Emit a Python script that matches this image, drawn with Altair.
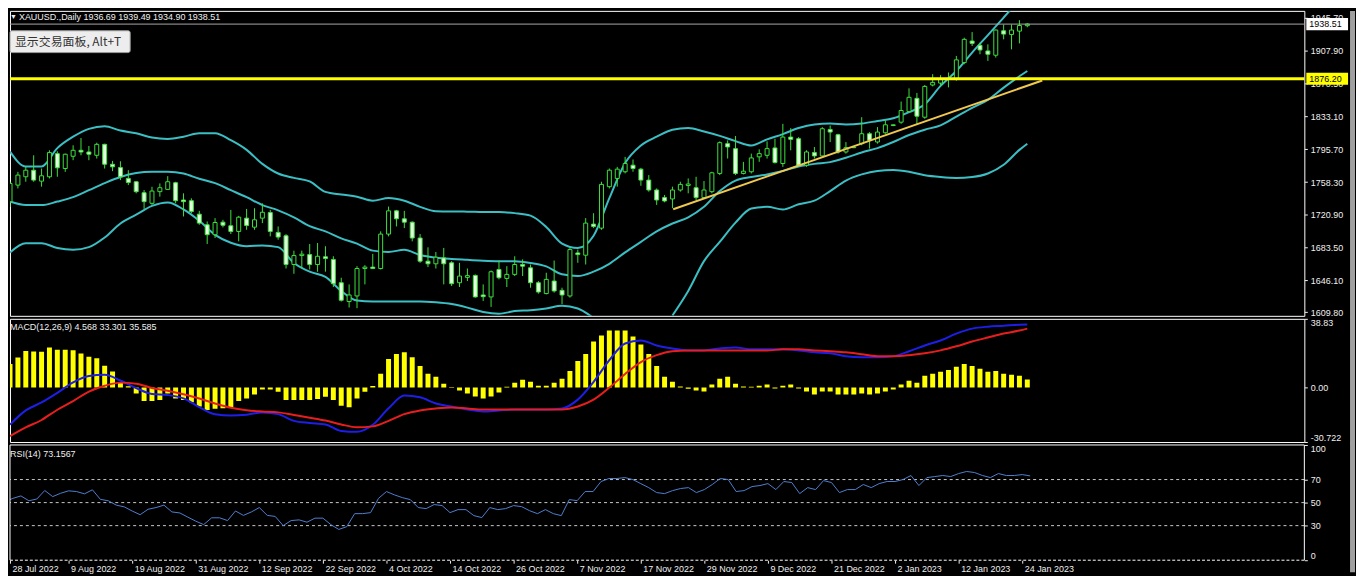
import json
import altair as alt
import pandas as pd

# ---------------- data ----------------
date_labels = ["28 Jul 2022", "9 Aug 2022", "19 Aug 2022", "31 Aug 2022", "12 Sep 2022",
               "22 Sep 2022", "4 Oct 2022", "14 Oct 2022", "26 Oct 2022", "7 Nov 2022",
               "17 Nov 2022", "29 Nov 2022", "9 Dec 2022", "21 Dec 2022", "2 Jan 2023",
               "12 Jan 2023", "24 Jan 2023"]

bar_open = [1735.9, 1754.8, 1764.3, 1771.8, 1759.3, 1764.3, 1790.7, 1773.7, 1787.7, 1794.5,
            1792.6, 1788.8, 1801.3, 1778.6, 1774.8, 1762.4, 1758.6, 1746.1, 1734.0, 1747.3,
            1749.9, 1757.5, 1737.8, 1737.0, 1721.6, 1709.5, 1698.2, 1712.5, 1708.4, 1701.9,
            1717.1, 1706.8, 1717.1, 1723.5, 1700.8, 1697.0, 1664.2, 1674.4, 1675.5, 1664.2,
            1673.0, 1669.9, 1643.4, 1621.9, 1628.3, 1659.6, 1661.2, 1659.6, 1698.9, 1725.4,
            1716.3, 1712.5, 1694.4, 1668.0, 1665.0, 1671.7, 1666.1, 1643.4, 1649.5, 1651.7,
            1629.4, 1627.2, 1658.5, 1648.3, 1652.9, 1664.2, 1660.4, 1643.4, 1631.0, 1645.3,
            1634.7, 1628.3, 1677.4, 1674.8, 1710.3, 1705.7, 1753.0, 1762.4, 1770.0, 1777.5,
            1773.0, 1760.5, 1749.2, 1740.5, 1739.0, 1749.2, 1754.4, 1751.8, 1740.5, 1747.3,
            1768.1, 1802.1, 1796.4, 1768.1, 1770.0, 1787.0, 1788.8, 1797.2, 1779.4, 1809.6,
            1807.7, 1777.5, 1791.9, 1788.1, 1818.3, 1812.3, 1792.6, 1797.5, 1802.1, 1813.4,
            1804.0, 1814.5, 1822.8, 1826.6, 1838.7, 1853.8, 1832.3, 1869.0, 1871.2, 1876.5,
            1875.7, 1894.6, 1919.2, 1914.3, 1907.9, 1903.0, 1930.9, 1926.7, 1930.5, 1936.69]

bar_high = [1758.6, 1769.9, 1775.6, 1788.8, 1773.7, 1794.5, 1793.4, 1790.7, 1800.2, 1808.5,
            1799.4, 1803.2, 1802.0, 1782.4, 1782.0, 1771.8, 1759.4, 1749.2, 1752.9, 1756.7,
            1765.0, 1758.6, 1745.4, 1739.7, 1725.4, 1713.3, 1717.1, 1715.2, 1726.5, 1719.7,
            1727.6, 1728.4, 1734.0, 1726.5, 1707.6, 1698.9, 1680.0, 1680.0, 1687.6, 1688.7,
            1685.0, 1673.6, 1649.1, 1641.5, 1662.3, 1663.4, 1676.3, 1702.0, 1730.3, 1726.5,
            1725.4, 1713.3, 1698.9, 1683.8, 1678.5, 1683.1, 1668.0, 1666.1, 1659.6, 1652.9,
            1641.5, 1657.4, 1668.7, 1662.3, 1673.6, 1670.0, 1664.2, 1645.3, 1654.8, 1668.7,
            1637.7, 1683.1, 1681.2, 1717.1, 1722.7, 1758.6, 1773.7, 1775.6, 1787.0, 1784.0,
            1774.5, 1766.2, 1751.0, 1743.5, 1753.0, 1758.6, 1762.4, 1764.3, 1759.4, 1770.0,
            1804.7, 1805.8, 1810.8, 1781.3, 1790.7, 1795.6, 1804.7, 1807.7, 1824.7, 1819.8,
            1809.6, 1794.5, 1798.3, 1821.0, 1822.8, 1813.4, 1803.9, 1798.5, 1832.3, 1815.3,
            1821.0, 1828.5, 1824.0, 1850.1, 1865.2, 1859.9, 1869.0, 1881.4, 1880.3, 1883.3,
            1902.2, 1923.0, 1929.4, 1917.3, 1915.4, 1932.4, 1938.1, 1938.1, 1943.0, 1939.49]

bar_low = [1730.0, 1751.0, 1758.6, 1758.6, 1753.0, 1762.4, 1764.3, 1769.9, 1783.2, 1788.8,
           1783.2, 1785.1, 1773.7, 1770.7, 1760.5, 1754.8, 1745.4, 1727.6, 1732.2, 1741.6,
           1749.2, 1734.0, 1719.0, 1722.7, 1709.5, 1687.6, 1694.4, 1706.5, 1699.0, 1690.6,
           1703.8, 1703.8, 1711.4, 1696.3, 1692.5, 1659.6, 1653.6, 1659.6, 1658.5, 1655.9,
           1656.0, 1638.5, 1621.9, 1615.1, 1614.3, 1641.5, 1659.0, 1658.5, 1696.3, 1707.6,
           1705.7, 1690.6, 1666.1, 1661.2, 1659.6, 1641.5, 1639.6, 1638.5, 1645.3, 1626.4,
           1622.6, 1615.8, 1647.2, 1638.5, 1651.0, 1651.0, 1637.7, 1630.9, 1630.2, 1632.1,
           1618.9, 1626.4, 1666.1, 1664.2, 1705.7, 1703.8, 1751.0, 1753.0, 1768.1, 1770.0,
           1754.0, 1747.3, 1732.2, 1735.2, 1728.4, 1747.3, 1745.4, 1737.8, 1739.0, 1745.4,
           1766.2, 1785.1, 1766.2, 1767.0, 1768.1, 1781.3, 1785.1, 1779.4, 1775.6, 1794.5,
           1775.6, 1775.6, 1785.1, 1786.9, 1803.9, 1790.7, 1790.7, 1797.0, 1800.2, 1796.4,
           1802.1, 1813.4, 1822.0, 1824.7, 1838.0, 1823.6, 1830.4, 1867.4, 1867.4, 1866.3,
           1873.9, 1892.7, 1913.5, 1904.1, 1896.5, 1900.3, 1921.1, 1909.7, 1916.5, 1934.90]

bar_close = [1756.7, 1766.2, 1771.8, 1760.5, 1765.4, 1791.9, 1774.5, 1790.0, 1794.5, 1792.6,
             1790.0, 1801.3, 1778.6, 1775.6, 1764.3, 1757.8, 1747.3, 1735.9, 1748.0, 1751.8,
             1758.6, 1737.0, 1735.9, 1724.6, 1711.4, 1698.2, 1712.1, 1709.0, 1701.9, 1718.2,
             1708.7, 1715.2, 1723.8, 1701.9, 1695.5, 1664.2, 1674.4, 1676.0, 1664.2, 1673.6,
             1671.0, 1642.3, 1623.4, 1629.4, 1659.6, 1661.2, 1659.6, 1698.9, 1725.4, 1716.3,
             1712.5, 1694.4, 1668.0, 1665.0, 1672.5, 1665.0, 1642.3, 1651.0, 1651.5, 1627.2,
             1627.5, 1655.9, 1649.1, 1652.9, 1664.2, 1662.3, 1643.4, 1632.8, 1647.2, 1634.0,
             1629.4, 1681.2, 1675.5, 1711.4, 1707.6, 1755.6, 1771.8, 1773.0, 1779.4, 1773.7,
             1760.5, 1749.2, 1737.8, 1736.7, 1749.2, 1755.6, 1756.0, 1740.5, 1749.2, 1768.8,
             1803.2, 1798.3, 1768.1, 1770.7, 1785.8, 1790.7, 1796.4, 1780.5, 1809.6, 1807.0,
             1777.5, 1792.6, 1788.1, 1819.1, 1815.3, 1792.6, 1797.5, 1797.9, 1813.4, 1805.9,
             1815.3, 1823.6, 1823.6, 1839.9, 1855.0, 1833.4, 1867.4, 1872.0, 1875.7, 1875.3,
             1897.7, 1921.1, 1916.5, 1909.0, 1904.1, 1931.7, 1927.1, 1931.7, 1936.9, 1938.51]

# Bollinger bands, read every second bar (plus the last bar)
band_index = list(range(0, 129, 2)) + [129]
bb_upper = [1793, 1776, 1776, 1797, 1810, 1819, 1822, 1817, 1814, 1809,
            1807.5, 1810, 1814, 1814, 1806, 1795, 1779, 1768, 1763, 1759,
            1747, 1744, 1741.6, 1737, 1740, 1737, 1730, 1725, 1724.6, 1724.5,
            1724, 1724, 1722.8, 1720, 1707, 1688, 1683, 1697, 1740, 1780,
            1800, 1810, 1818, 1820, 1816, 1811, 1805, 1800, 1807, 1813,
            1820, 1824, 1825, 1824, 1825, 1828, 1831, 1838, 1847, 1868,
            1885, 1906, 1926, 1946, 1966, 1975]
bb_middle = [1736, 1732, 1732, 1736, 1741, 1749, 1757, 1764, 1768.5, 1770,
             1770, 1768, 1762, 1757, 1749, 1741, 1732, 1726, 1718, 1708,
             1702, 1694, 1688, 1680, 1678.5, 1681, 1675, 1672, 1670.5, 1669.5,
             1668.5, 1668, 1668, 1666, 1662, 1653, 1651, 1656, 1665, 1678,
             1690, 1702, 1711, 1718, 1730, 1748, 1760, 1764, 1767, 1771,
             1776, 1779, 1781, 1786, 1792, 1797, 1804, 1812, 1818, 1823,
             1833, 1843, 1852, 1866, 1879, 1885]
bb_lower = [1678, 1688.5, 1688.5, 1683, 1681, 1684, 1695, 1711, 1721, 1731,
            1735, 1727, 1714, 1698, 1689, 1685, 1686, 1684, 1666, 1656,
            1650, 1634, 1623, 1622, 1622, 1622, 1622, 1621, 1619, 1615,
            1610, 1608, 1611, 1612, 1614, 1617, 1614, 1603, None, None,
            None, None, 1606, 1634, 1668, 1690, 1712, 1728, 1730, 1727,
            1733, 1737, 1748, 1760, 1767, 1771, 1772, 1770, 1766, 1764,
            1763, 1764, 1768, 1778, 1795, 1802]

level_price = [1876.20]
bid_price = [1938.51]
trend_index = [84.1, 130.9]
trend_price = [1727.3, 1874.2]
price_ticks = [1609.80, 1646.10, 1683.50, 1720.90, 1758.30, 1795.70, 1833.10, 1870.50, 1907.90, 1945.70]

macd_hist = [13.3, 17.0, 20.7, 20.4, 20.2, 22.6, 21.3, 21.3, 21.1, 19.3,
             17.4, 16.5, 12.4, 9.1, 2.8, 0.7, -3.3, -7.6, -7.6, -7.0,
             -3.3, -6.1, -7.0, -8.3, -10.7, -12.6, -12.0, -11.7, -11.3, -7.6,
             -6.1, -3.9, -1.1, -1.1, -2.4, -7.0, -7.0, -7.0, -7.0, -6.5,
             -5.2, -7.0, -10.2, -11.1, -6.1, -2.4, 0.9, 7.8, 16.1, 18.9,
             20.0, 17.2, 12.2, 7.8, 6.1, 2.2, 0.3, -1.7, -3.3, -5.0,
             -6.1, -5.0, -2.8, 0.5, 2.8, 4.4, 3.3, 1.1, 1.1, 2.8,
             5.0, 9.4, 15.0, 18.9, 26.0, 29.4, 32.2, 32.2, 32.2, 28.9,
             24.4, 18.9, 12.2, 6.1, 3.3, 0.6, -0.6, -1.7, -2.2, 1.7,
             5.0, 6.1, 2.2, 0.6, 0.5, 1.1, 1.7, -0.5, 1.1, 1.7,
             -0.5, -2.2, -3.9, -2.2, -2.2, -3.9, -3.9, -3.9, -3.3, -3.9,
             -3.3, -2.2, -1.1, 1.7, 3.9, 2.8, 6.7, 7.8, 8.9, 10.0,
             11.7, 13.3, 12.2, 10.6, 8.9, 9.4, 7.8, 7.2, 6.7, 4.568]
macd_blue = [-20.9, -12.9, -8.4, -3.0, 2.9, 6.5, 7.2, 4.0, -0.3, -3.6,
             -4.2, -6.1, -11.0, -15.0, -15.7, -15.3, -14.0, -15.0, -18.8, -20.0,
             -20.8, -24.5, -25.0, -21.0, -11.7, -4.5, -5.5, -9.0, -10.7, -12.4,
             -13.5, -12.9, -12.4, -12.4, -12.4, -11.8, -6.8, 3.2, 15.5, 24.9,
             26.6, 23.8, 22.1, 21.0, 21.0, 22.1, 22.7, 21.6, 21.6, 21.6,
             21.0, 19.9, 19.4, 17.7, 17.1, 17.1, 17.7, 20.5, 23.8, 26.6,
             30.5, 33.3, 34.4, 34.9, 35.5, 35.585]
macd_red = [-27.4, -22.5, -18.3, -12.5, -7.6, -2.3, 1.0, 2.8, 2.2, -0.2,
            -1.8, -3.8, -6.2, -9.0, -11.4, -12.8, -13.5, -14.0, -15.5, -17.0,
            -18.6, -20.8, -22.4, -21.9, -18.8, -15.0, -12.9, -11.8, -11.2, -11.8,
            -12.4, -12.4, -12.4, -12.4, -12.4, -12.4, -10.7, -6.8, 0.0, 7.7,
            14.4, 18.3, 20.5, 21.0, 21.0, 21.0, 21.0, 21.0, 21.0, 21.6,
            21.6, 21.0, 20.5, 19.9, 18.8, 17.7, 17.7, 18.3, 19.4, 21.0,
            23.3, 26.0, 28.3, 30.5, 32.2, 33.301]
macd_ticks = [38.83, 0.0, -30.722]

rsi_values = [50.7, 53.7, 55.8, 51.6, 53.1, 60.5, 55.2, 58.1, 60.2, 59.6,
              57.6, 61.1, 52.8, 51.6, 47.8, 46.3, 42.7, 39.5, 44.2, 45.7,
              47.8, 41.9, 41.0, 37.4, 33.9, 30.9, 36.8, 36.8, 34.4, 42.7,
              38.9, 41.9, 45.7, 38.9, 38.0, 30.0, 34.4, 35.0, 33.0, 36.5,
              36.5, 30.9, 26.7, 29.1, 40.4, 40.4, 41.3, 53.7, 59.6, 56.7,
              54.3, 52.6, 45.7, 44.8, 48.3, 47.4, 41.3, 43.9, 43.9, 38.7,
              37.0, 45.7, 43.9, 44.8, 47.4, 46.5, 43.0, 40.4, 43.9, 40.4,
              38.7, 52.6, 51.7, 59.6, 59.6, 68.3, 70.9, 70.9, 71.7, 70.0,
              66.5, 63.0, 58.7, 57.8, 60.4, 62.2, 63.0, 58.7, 61.3, 65.7,
              70.9, 70.0, 59.6, 60.4, 63.9, 64.8, 66.5, 61.3, 68.3, 67.4,
              57.8, 63.0, 61.3, 69.1, 67.4, 58.7, 61.3, 61.3, 65.7, 63.0,
              66.5, 68.3, 68.3, 70.0, 73.5, 64.8, 71.7, 72.6, 73.5, 72.6,
              75.2, 77.0, 76.1, 73.5, 71.7, 75.2, 73.5, 73.5, 74.3, 73.16]
rsi_levels = [70, 50, 30]
rsi_ticks = [100, 70, 50, 30, 0]

header_text = ["XAUUSD.,Daily  1936.69 1939.49 1934.90 1938.51"]
button_text = ["显示交易面板, Alt+T"]
macd_title = ["MACD(12,26,9) 4.568 33.301 35.585"]
rsi_title = ["RSI(14) 73.1567"]

# ---------------- tables ----------------
n = len(bar_open)
candles = pd.DataFrame({"i": list(range(n)), "o": bar_open, "h": bar_high,
                        "l": bar_low, "c": bar_close})
rows = []
for name, vals in (("upper", bb_upper), ("middle", bb_middle), ("lower", bb_lower)):
    for i, v in zip(band_index, vals):
        if v is None:
            continue
        seg = name if (name != "lower" or i < 80) else "lower2"
        rows.append({"i": i, "v": v, "band": seg})
bands = pd.DataFrame(rows)
trend = pd.DataFrame({"i": trend_index, "p": trend_price})
level_df = pd.DataFrame({"p": level_price})
bid_df = pd.DataFrame({"p": bid_price})
hist_df = pd.DataFrame({"i": list(range(n)), "h": macd_hist})
blue_df = pd.DataFrame({"i": band_index, "v": macd_blue})
red_df = pd.DataFrame({"i": band_index, "v": macd_red})
rsi_df = pd.DataFrame({"i": list(range(n)), "r": rsi_values})
lev_df = pd.DataFrame({"lv": rsi_levels})
one = pd.DataFrame({"k": [0]})

# ---------------- styling ----------------
W, H_MAIN, H_MACD, H_RSI = 1303, 307, 124, 116
LIME = "#3CE03C"
BEAR_FILL = "#E4FFE0"
TEAL = "#3BBFC4"
FONT = "Liberation Sans"
TXT = "#F0F0F0"
STRIP = "#A0A0A0"
BOX = "M-1,-0.29L1,-0.29L1,0.29L-1,0.29Z"

xs = alt.Scale(domain=[0.625, 163.5], nice=False, zero=False)
x_hidden = alt.X("i:Q", scale=xs, axis=None)

ps = alt.Scale(domain=[1605.6, 1953.6], nice=False, zero=False)
p_axis = alt.Axis(values=price_ticks, format=".2f", orient="right", title=None,
                  labelOverlap=False)


def py(field):
    return alt.Y(field, scale=ps, axis=p_axis)


def label(df, size, color, xpix, ypix, font=FONT):
    return alt.Chart(df).mark_text(align="left", baseline="middle", font=font,
                                   fontSize=size, color=color).encode(
        x=alt.value(xpix), y=alt.value(ypix), text=alt.Text(df.columns[0] + ":N"))


def strip(y0, y1):
    return alt.Chart(one).mark_rect(color=STRIP).encode(
        x=alt.value(1349), x2=alt.value(1354), y=alt.value(y0), y2=alt.value(y1))


def frame_line(x0, x1, y0, y1, dash=None):
    kw = {"color": "#FFFFFF", "strokeWidth": 1}
    if dash:
        kw["strokeDash"] = dash
    return alt.Chart(one).mark_rule(**kw).encode(
        x=alt.value(x0), x2=alt.value(x1), y=alt.value(y0), y2=alt.value(y1))


# ---------------- main panel ----------------
wick = alt.Chart(candles).mark_rule(color=LIME, strokeWidth=1, clip=True).encode(
    x=x_hidden, y=py("l:Q"), y2="h:Q")
body = alt.Chart(candles).mark_bar(size=4, stroke=LIME, strokeWidth=1, clip=True).encode(
    x=x_hidden, y=py("o:Q"), y2="c:Q",
    fill=alt.condition("datum.c >= datum.o", alt.value("#000000"), alt.value(BEAR_FILL)))
band_lines = alt.Chart(bands).mark_line(color=TEAL, strokeWidth=2, clip=True,
                                        interpolate="monotone").encode(
    x=x_hidden, y=py("v:Q"), detail="band:N")
level_rule = alt.Chart(level_df).mark_rule(color="#FFFF00", strokeWidth=3).encode(y=py("p:Q"))
bid_rule = alt.Chart(bid_df).mark_rule(color="#A8A8A8", strokeWidth=1).encode(y=py("p:Q"))
trend_line = alt.Chart(trend).mark_line(color="#F0C850", strokeWidth=2, clip=True).encode(
    x=x_hidden, y=py("p:Q"))
bid_box = alt.Chart(bid_df).mark_point(shape=BOX, size=42 * 42, filled=True, opacity=1,
                                       color="#FFFFFF", strokeWidth=0).encode(
    x=alt.value(1326), y=py("p:Q"))
level_box = alt.Chart(level_df).mark_point(shape=BOX, size=42 * 42, filled=True, opacity=1,
                                           color="#FFFF00", strokeWidth=0).encode(
    x=alt.value(1326), y=py("p:Q"))
bid_txt = alt.Chart(bid_df).mark_text(align="left", baseline="middle", font=FONT,
                                      fontSize=9, color="#000000").encode(
    x=alt.value(1308), y=py("p:Q"), text=alt.Text("p:Q", format=".2f"))
level_txt = alt.Chart(level_df).mark_text(align="left", baseline="middle", font=FONT,
                                          fontSize=9, color="#000000").encode(
    x=alt.value(1308), y=py("p:Q"), text=alt.Text("p:Q", format=".2f"))
tri = alt.Chart(one).mark_text(text="▼", fontSize=7, color=TXT, align="left",
                               baseline="middle").encode(x=alt.value(0), y=alt.value(6))
header = label(pd.DataFrame({"t": header_text}), 9, TXT, 9, 6)
button = alt.Chart(one).mark_rect(fill="#EDEDED", stroke="#9A9A9A", strokeWidth=1,
                                  cornerRadius=2).encode(
    x=alt.value(0), x2=alt.value(121), y=alt.value(20), y2=alt.value(42))
button_lbl = label(pd.DataFrame({"t": button_text}), 12, "#333333", 5, 31,
                   font="Noto Sans CJK SC")

main = alt.layer(band_lines, wick, body, level_rule, bid_rule, trend_line,
                 bid_box, level_box, bid_txt, level_txt, tri, header, button, button_lbl,
                 strip(0, H_MAIN + 3)).properties(width=W, height=H_MAIN)

# ---------------- MACD panel ----------------
ms = alt.Scale(domain=[-30.722, 38.83], nice=False, zero=False)
m_axis = alt.Axis(values=macd_ticks, orient="right", title=None, labelFlush=True,
                  labelOverlap=False,
                  labelExpr="datum.value == 0 ? '0.00' : '' + datum.value")
hist = alt.Chart(hist_df).mark_bar(size=5, color="#FFFF00", clip=True).encode(
    x=x_hidden, y=alt.Y("h:Q", scale=ms, axis=m_axis), y2=alt.datum(0))
blue = alt.Chart(blue_df).mark_line(color="#1E1EE8", strokeWidth=2, clip=True,
                                    interpolate="monotone").encode(
    x=x_hidden, y=alt.Y("v:Q", scale=ms, axis=m_axis))
red = alt.Chart(red_df).mark_line(color="#E81E1E", strokeWidth=2, clip=True,
                                  interpolate="monotone").encode(
    x=x_hidden, y=alt.Y("v:Q", scale=ms, axis=m_axis))
macd = alt.layer(hist, blue, red, label(pd.DataFrame({"t": macd_title}), 9, TXT, 0, 8),
                 strip(-3, H_MACD + 3)).properties(width=W, height=H_MACD)

# ---------------- RSI panel ----------------
rs = alt.Scale(domain=[0, 100], nice=False, zero=False)
r_axis = alt.Axis(values=rsi_ticks, orient="right", title=None, labelFlush=True,
                  labelOverlap=False, format="d")
x_ticks = [0.625] + list(range(8, 129, 8))
x_axis = alt.Axis(values=x_ticks, orient="bottom", title=None, labelAlign="left",
                  labelPadding=1, labelOffset=2, tickSize=3, labelFlush=False,
                  labelOverlap=False,
                  labelExpr=json.dumps(date_labels) + "[round(datum.value / 8)]")
levels = alt.Chart(lev_df).mark_rule(color="#C8C8C8", strokeWidth=1,
                                     strokeDash=[3, 3]).encode(
    y=alt.Y("lv:Q", scale=rs, axis=r_axis))
rsi_line = alt.Chart(rsi_df).mark_line(color="#4F7FD0", strokeWidth=1, clip=True).encode(
    x=alt.X("i:Q", scale=xs, axis=x_axis), y=alt.Y("r:Q", scale=rs, axis=r_axis))
rsi = alt.layer(
    levels, rsi_line, label(pd.DataFrame({"t": rsi_title}), 9, TXT, 0, 9),
    frame_line(0, W, 0, 0), frame_line(0, 0, 0, H_RSI), frame_line(W, W, 0, H_RSI),
    frame_line(0, W, H_RSI, H_RSI, dash=[3, 2]),
    strip(-3, H_RSI + 12)
).properties(width=W, height=H_RSI, view=alt.ViewBackground(stroke="transparent"))

chart = alt.vconcat(main, macd, rsi, spacing=3, bounds="flush", padding=0).configure(
    background="#000000"
).configure_view(
    stroke="#FFFFFF", strokeWidth=1
).configure_axis(
    labelColor=TXT, labelFont=FONT, labelFontSize=9, tickColor=TXT, tickSize=3,
    labelPadding=3, domain=False, grid=False
)

chart.save("out.html", embed_options={"renderer": "svg", "actions": False})
